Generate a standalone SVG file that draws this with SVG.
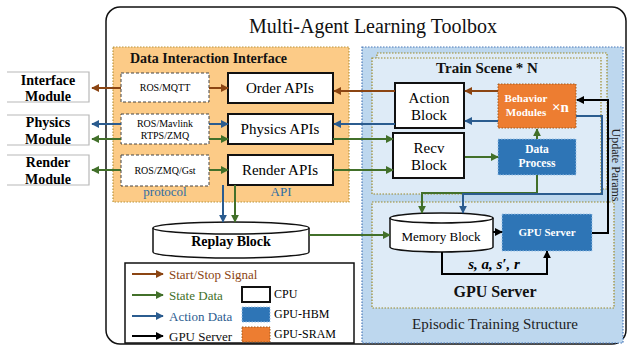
<svg xmlns="http://www.w3.org/2000/svg" width="629" height="346" viewBox="0 0 629 346">
  <style>
    .serif { font-family: "Liberation Serif", "Times New Roman", serif; }
    .b { font-weight: bold; }
    .mid { text-anchor: middle; }
    .cpu { fill: #ffffff; stroke: #111111; stroke-width: 2; }
    .proto { fill: #ffffff; stroke: #444444; stroke-width: 1; stroke-dasharray: 3 2; }
    .mod { fill: none; stroke: #b8b8b8; stroke-width: 1.2; }
    .hbm { fill: #2e75b6; stroke: #9dc3e6; stroke-width: 1; stroke-dasharray: 1.5 1.5; }
    .sram { fill: #ed7d31; stroke: #a05a1e; stroke-width: 1; stroke-dasharray: 1.5 1.5; }
    .scene { fill: #deebf7; stroke: #9c8a2a; stroke-width: 1.2; stroke-dasharray: 1.5 1.5; }
    .c { fill: none; stroke-width: 2; }
    .brown { stroke: #8b4513; }
    .green { stroke: #42702a; }
    .blue { stroke: #2b5c8f; }
    .black { stroke: #000000; }
    .wt { fill: #ffffff; font-weight: bold; }
  </style>
  <defs>
    <marker id="ah-brown" viewBox="0 0 10 10" refX="9" refY="5" markerWidth="8" markerHeight="8" markerUnits="userSpaceOnUse" orient="auto">
      <path d="M0,0 L10,5 L0,10 Z" fill="#8b4513"/>
    </marker>
    <marker id="ah-green" viewBox="0 0 10 10" refX="9" refY="5" markerWidth="8" markerHeight="8" markerUnits="userSpaceOnUse" orient="auto">
      <path d="M0,0 L10,5 L0,10 Z" fill="#42702a"/>
    </marker>
    <marker id="ah-blue" viewBox="0 0 10 10" refX="9" refY="5" markerWidth="8" markerHeight="8" markerUnits="userSpaceOnUse" orient="auto">
      <path d="M0,0 L10,5 L0,10 Z" fill="#2b5c8f"/>
    </marker>
    <marker id="ah-black" viewBox="0 0 10 10" refX="9" refY="5" markerWidth="8" markerHeight="8" markerUnits="userSpaceOnUse" orient="auto">
      <path d="M0,0 L10,5 L0,10 Z" fill="#000000"/>
    </marker>
  </defs>

  <rect width="629" height="346" fill="#ffffff"/>

  <!-- toolbox frame -->
  <g id="toolbox">
    <rect x="106" y="7" width="520" height="337" rx="14" fill="none" stroke="#111111" stroke-width="1.5"/>
    <text class="serif mid" x="373" y="33" font-size="20" fill="#111111">Multi-Agent Learning Toolbox</text>
  </g>

  <!-- interface region -->
  <g id="data-interaction-interface">
    <rect x="113" y="47" width="236" height="155" fill="#fccb87" stroke="#b8953e" stroke-width="1.2" stroke-dasharray="1.5 1.5"/>
    <text class="serif b" x="130" y="63" font-size="14" fill="#111111">Data Interaction Interface</text>
    <text class="serif mid" x="165" y="196" font-size="13" fill="#2e6da4">protocol</text>
    <text class="serif mid" x="281" y="196" font-size="13" fill="#2e6da4">API</text>
  </g>

  <!-- episodic training region -->
  <g id="episodic-training">
    <rect x="362" y="47" width="261" height="296" fill="#bdd7ee" stroke="#4a78b8" stroke-width="1.2" stroke-dasharray="1.5 1.5"/>
    <text class="serif mid" x="495" y="329" font-size="15" fill="#222222">Episodic Training Structure</text>
    <text class="serif mid" x="616" y="169" font-size="12" fill="#222222" transform="rotate(90 616 165)">Update Params</text>
  </g>

  <g id="train-scene">
    <rect class="scene" x="377" y="53" width="230" height="136"/>
    <rect class="scene" x="372" y="58" width="229" height="136"/>
    <text class="serif b mid" x="487" y="73" font-size="15" fill="#111111">Train Scene * N</text>
  </g>

  <g id="gpu-server-region">
    <rect class="scene" x="372" y="202" width="242" height="106"/>
    <text class="serif b mid" x="495" y="297" font-size="16" fill="#111111">GPU Server</text>
  </g>

  <!-- external modules -->
  <g id="interface-module">
    <polyline class="mod" points="7,72 89,72 89,102 7,102"/>
    <text class="serif b mid" x="48" y="85" font-size="14">Interface</text>
    <text class="serif b mid" x="48" y="101" font-size="14">Module</text>
  </g>
  <g id="physics-module">
    <polyline class="mod" points="7,115 89,115 89,145 7,145"/>
    <text class="serif b mid" x="48" y="127" font-size="14">Physics</text>
    <text class="serif b mid" x="48" y="144" font-size="14">Module</text>
  </g>
  <g id="render-module">
    <polyline class="mod" points="7,155 89,155 89,185 7,185"/>
    <text class="serif b mid" x="48" y="167" font-size="14">Render</text>
    <text class="serif b mid" x="48" y="184" font-size="14">Module</text>
  </g>

  <!-- protocol boxes -->
  <g id="ros-mqtt">
    <rect class="proto" x="121" y="73" width="88" height="29"/>
    <text class="serif mid" x="165" y="91" font-size="10">ROS/MQTT</text>
  </g>
  <g id="ros-mavlink">
    <rect class="proto" x="121" y="114" width="88" height="30"/>
    <text class="serif mid" x="165" y="127" font-size="10">ROS/Mavlink</text>
    <text class="serif mid" x="165" y="139" font-size="10">RTPS/ZMQ</text>
  </g>
  <g id="ros-zmq-gst">
    <rect class="proto" x="121" y="155" width="88" height="31"/>
    <text class="serif mid" x="165" y="174" font-size="10">ROS/ZMQ/Gst</text>
  </g>

  <!-- API boxes -->
  <g id="order-apis">
    <rect class="cpu" x="228" y="73" width="105" height="30"/>
    <text class="serif mid" x="280" y="93" font-size="15">Order APIs</text>
  </g>
  <g id="physics-apis">
    <rect class="cpu" x="228" y="114" width="105" height="30"/>
    <text class="serif mid" x="280" y="134" font-size="15">Physics APIs</text>
  </g>
  <g id="render-apis">
    <rect class="cpu" x="228" y="155" width="105" height="30"/>
    <text class="serif mid" x="280" y="175" font-size="15">Render APIs</text>
  </g>

  <!-- train scene blocks -->
  <g id="action-block">
    <rect class="cpu" x="395" y="83" width="69" height="45"/>
    <text class="serif mid" x="429" y="103" font-size="15">Action</text>
    <text class="serif mid" x="429" y="120" font-size="15">Block</text>
  </g>
  <g id="recv-block">
    <rect class="cpu" x="393" y="133" width="71" height="45"/>
    <text class="serif mid" x="429" y="153" font-size="15">Recv</text>
    <text class="serif mid" x="429" y="170" font-size="15">Block</text>
  </g>
  <g id="behavior-modules">
    <rect class="sram" x="498" y="84" width="78" height="44"/>
    <text class="serif wt mid" x="526" y="102" font-size="11">Behavior</text>
    <text class="serif wt mid" x="526" y="116" font-size="11">Modules</text>
    <text class="serif wt" x="552" y="112" font-size="15">×n</text>
  </g>
  <g id="data-process">
    <rect class="hbm" x="498" y="139" width="78" height="36"/>
    <text class="serif wt mid" x="537" y="153" font-size="11.5">Data</text>
    <text class="serif wt mid" x="537" y="167" font-size="11.5">Process</text>
  </g>

  <!-- storage and training -->
  <g id="replay-block">
    <path d="M153,228 V252 A78,6 0 0 0 309,252 V228" fill="#ffffff" stroke="#111111" stroke-width="1.5"/>
    <ellipse cx="231" cy="228" rx="78" ry="6" fill="#ffffff" stroke="#111111" stroke-width="1.5"/>
    <text class="serif b mid" x="231" y="246" font-size="14">Replay Block</text>
  </g>
  <g id="memory-block">
    <path d="M390,218 V247 A51.5,5 0 0 0 493,247 V218" fill="#ffffff" stroke="#111111" stroke-width="1.5"/>
    <ellipse cx="441.5" cy="218" rx="51.5" ry="5" fill="#ffffff" stroke="#111111" stroke-width="1.5"/>
    <text class="serif mid" x="441" y="241" font-size="13">Memory Block</text>
  </g>
  <g id="gpu-server">
    <rect class="hbm" x="502" y="214" width="90" height="37"/>
    <text class="serif wt mid" x="547" y="236" font-size="11">GPU Server</text>
  </g>

  <!-- connectors -->
  <g id="connectors">
    <path class="c brown" d="M121,88 H92" marker-end="url(#ah-brown)"/>
    <path class="c brown" d="M209,88 H228" marker-end="url(#ah-brown)"/>
    <path class="c blue" d="M121,124 H92" marker-end="url(#ah-blue)"/>
    <path class="c blue" d="M209,124 H228" marker-end="url(#ah-blue)"/>
    <path class="c green" d="M121,139 H92" marker-end="url(#ah-green)"/>
    <path class="c green" d="M209,139 H228" marker-end="url(#ah-green)"/>
    <path class="c green" d="M121,170 H92" marker-end="url(#ah-green)"/>
    <path class="c green" d="M209,170 H228" marker-end="url(#ah-green)"/>

    <path class="c brown" d="M395,91 H334" marker-end="url(#ah-brown)"/>
    <path class="c blue" d="M395,124 H334" marker-end="url(#ah-blue)"/>
    <path class="c green" d="M333,139 H393" marker-end="url(#ah-green)"/>
    <path class="c green" d="M333,170 H393" marker-end="url(#ah-green)"/>

    <path class="c brown" d="M498,91 H465" marker-end="url(#ah-brown)"/>
    <path class="c blue" d="M498,121 H465" marker-end="url(#ah-blue)"/>
    <path class="c green" d="M537,139 V129" marker-end="url(#ah-green)"/>
    <path class="c green" d="M465,157 H498" marker-end="url(#ah-green)"/>

    <path class="c green" d="M537,175 V193 H422 V213" marker-end="url(#ah-green)"/>
    <path class="c blue" d="M576,116 H602 V194 H463 V213" marker-end="url(#ah-blue)"/>
    <path class="c black" d="M592,233 H608 V100 H577" marker-end="url(#ah-black)"/>
    <path class="c black" d="M493,232 H502" marker-end="url(#ah-black)"/>
    <path class="c black" d="M442,252 V274 H547 V251" marker-end="url(#ah-black)"/>

    <path class="c blue" d="M223,185 V222" marker-end="url(#ah-blue)"/>
    <path class="c green" d="M235,185 V222" marker-end="url(#ah-green)"/>
    <path class="c green" d="M309,235 H390" marker-end="url(#ah-green)"/>

    <text class="serif b mid" x="494" y="269" font-size="15" font-style="italic">s, a, s′, r</text>
  </g>

  <!-- legend -->
  <g id="legend">
    <rect x="125" y="263" width="229" height="80" fill="#ffffff" stroke="#111111" stroke-width="1.5"/>
    <path class="c brown" d="M132,274 H163" marker-end="url(#ah-brown)"/>
    <text class="serif" x="169" y="279" font-size="13" fill="#8b4513">Start/Stop Signal</text>
    <path class="c green" d="M132,295 H163" marker-end="url(#ah-green)"/>
    <text class="serif" x="169" y="300" font-size="13" fill="#42702a">State Data</text>
    <path class="c blue" d="M132,316 H163" marker-end="url(#ah-blue)"/>
    <text class="serif" x="169" y="321" font-size="13" fill="#2b5c8f">Action Data</text>
    <path class="c black" d="M132,336 H163" marker-end="url(#ah-black)"/>
    <text class="serif" x="169" y="341" font-size="13" fill="#111111">GPU Server</text>

    <rect class="cpu" x="242" y="287" width="28" height="15" stroke-width="1.5"/>
    <text class="serif" x="274" y="298" font-size="12">CPU</text>
    <rect class="hbm" x="242" y="307" width="28" height="15"/>
    <text class="serif" x="274" y="318" font-size="12">GPU-HBM</text>
    <rect class="sram" x="242" y="327" width="28" height="15"/>
    <text class="serif" x="274" y="338" font-size="12">GPU-SRAM</text>
  </g>
</svg>
